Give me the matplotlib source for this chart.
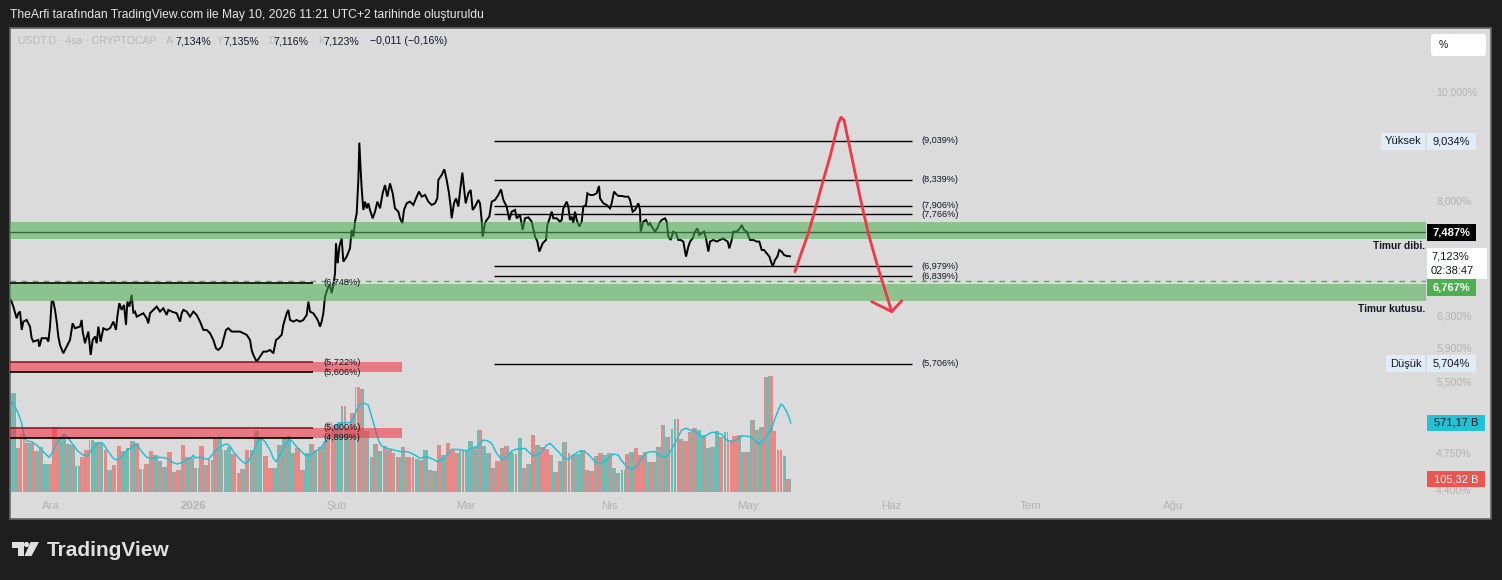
import datetime as dt
import numpy as np
import matplotlib
matplotlib.use('Agg')
import matplotlib.pyplot as plt
import matplotlib.dates as mdates
from matplotlib.patches import Rectangle, Polygon, Circle, FancyBboxPatch
from matplotlib.transforms import IdentityTransform
from matplotlib.ticker import FixedLocator, FixedFormatter, NullLocator, NullFormatter

plt.rcParams['font.family'] = ['Liberation Sans', 'DejaVu Sans']

BASE = dt.datetime(2026, 2, 1)   # day offsets below are days after 1 Feb 2026

# ---------------- price trace (USDT.D, %) ----------------
price_day = [
    -70.56, -70.06, -69.34, -68.98, -68.61, -68.25, -67.89, -67.17, -66.45, -66.09,
    -65.73, -64.65, -64.43, -63.92, -62.84, -62.48, -62.12, -61.76, -61.40, -61.04,
    -60.68, -60.32, -59.96, -59.24, -58.51, -57.79, -57.22, -56.71, -55.63, -55.27,
    -55.05, -54.55, -53.82, -53.32, -52.89, -52.38, -52.02, -51.66, -51.16, -50.58,
    -49.86, -49.13, -48.41, -47.84, -47.55, -47.11, -46.61, -46.10, -45.67, -45.38,
    -44.95, -44.44, -44.08, -43.72, -43.36, -42.64, -41.92, -41.20, -40.84, -40.48,
    -39.75, -39.03, -38.31, -37.59, -36.87, -36.51, -35.79, -34.70, -33.98, -33.62,
    -33.26, -32.54, -31.82, -31.10, -30.37, -29.65, -28.93, -28.21, -27.49, -26.77,
    -26.19, -25.69, -24.96, -24.60, -24.03, -23.52, -22.80, -22.08, -21.00, -20.27,
    -19.55, -18.83, -18.47, -18.11, -17.39, -16.67, -15.95, -15.22, -14.50, -13.78,
    -13.20, -12.70, -11.98, -11.62, -10.89, -10.53, -10.17, -9.45, -8.73, -8.01,
    -7.29, -6.57, -6.20, -5.84, -5.12, -4.40, -4.04, -3.68, -3.32, -2.96,
    -2.60, -2.24, -1.88, -1.52, -1.15, -0.79, -0.43,
    -0.22, 0.14, 0.51, 1.01, 1.37, 2.09, 2.81, 3.17, 3.54, 3.90,
    4.26, 4.62, 4.83, 5.12, 5.34, 5.70, 6.06, 6.42, 6.78, 7.14,
    7.72, 8.23, 8.73, 9.31, 9.88, 10.39, 10.89, 11.47, 12.05, 12.55,
    13.28, 13.64, 14.14, 14.50, 15.08, 15.80, 16.52, 17.24, 17.75, 18.33,
    19.05, 19.77, 20.49, 21.21, 21.72, 21.93, 22.66, 23.23, 23.74, 24.24,
    24.60, 24.82, 25.32, 25.76, 26.26, 26.62, 27.13, 27.49, 27.85, 28.43,
    28.93, 29.37, 29.87, 30.59, 30.95, 31.31, 31.53, 32.03, 32.40, 32.97,
    33.48, 34.20, 34.92, 35.50, 36.00, 36.72, 37.30, 37.81, 38.53, 38.89,
    39.61, 40.19, 40.69, 41.41, 42.14, 42.86, 43.36, 43.80, 44.52, 45.24,
    45.53, 46.10, 46.46, 46.83, 47.55, 48.27, 48.63, 48.99, 49.71, 50.07,
    50.43, 50.79, 51.15, 51.52, 51.88, 52.45, 52.96, 53.32, 53.90, 54.18,
    54.76, 55.48, 56.20, 56.71, 56.93, 57.65, 58.37, 59.09, 59.45, 59.96,
    60.39, 60.89, 61.62, 62.34, 63.06, 63.42, 63.99, 64.50, 65.22, 65.58,
    65.73, 66.31, 66.88, 67.39, 67.75, 68.11, 68.83, 69.34, 69.77, 70.27,
    70.99, 71.36, 71.72, 72.22, 72.80, 73.38, 73.88, 74.39, 74.96, 75.54,
    76.05, 76.41, 76.98, 77.49, 77.99, 78.43, 78.93, 79.44, 79.87, 80.37,
    80.74, 81.46, 82.18, 82.90, 83.62, 83.98, 84.56, 84.92, 85.43, 85.79,
    86.51, 87.23, 87.59, 88.10, 88.67, 89.39, 90.12, 90.84, 91.41, 91.92,
    92.42, 93.00, 93.58, 94.30, 94.81, 95.31, 95.74, 96.25, 96.75, 97.33, 98.05,
]
price_val = [
    6.510, 6.421, 6.268, 6.333, 6.355, 6.119, 6.225, 6.246, 6.161, 6.015,
    5.973, 5.994, 5.911, 6.015, 6.015, 5.973, 6.161, 6.487, 6.487, 6.377,
    6.225, 6.036, 5.932, 5.831, 5.911, 5.994, 6.203, 6.140, 6.161, 6.246,
    6.098, 5.953, 6.098, 5.811, 5.994, 6.036, 5.953, 6.161, 5.973, 6.140,
    6.119, 6.140, 6.225, 6.119, 6.289, 6.466, 6.377, 6.443, 6.182, 6.487,
    6.421, 6.577, 6.333, 6.355, 6.289, 6.311, 6.333, 6.268, 6.203, 6.333,
    6.377, 6.421, 6.355, 6.399, 6.311, 6.377, 6.355, 6.333, 6.225, 6.333,
    6.377, 6.355, 6.289, 6.355, 6.311, 6.225, 6.119, 6.119, 6.078, 5.994,
    5.891, 5.871, 5.911, 5.994, 6.119, 6.140, 6.098, 6.098, 6.098, 6.078,
    6.057, 5.994, 5.871, 5.811, 5.731, 5.791, 5.851, 5.851, 5.871, 5.831,
    5.994, 6.015, 6.057, 6.182, 6.333, 6.377, 6.246, 6.225, 6.246, 6.225,
    6.246, 6.311, 6.487, 6.355, 6.333, 6.268, 6.225, 6.161, 6.225, 6.333,
    6.555, 6.622, 6.690, 6.712, 6.600, 6.712, 6.878,
    7.318, 7.022, 7.268, 7.393, 7.045, 7.119, 7.242, 7.521, 7.419, 7.651,
    7.785, 8.339, 9.007, 8.513, 8.197, 7.838, 7.974, 7.865, 7.947, 7.838,
    7.705, 7.811, 7.974, 7.865, 8.113, 8.252, 8.056, 8.280, 8.113, 7.865,
    7.811, 7.705, 7.627, 7.838, 7.947, 7.974, 7.920, 8.056, 8.141, 8.056,
    8.085, 7.974, 7.920, 7.947, 8.030, 8.339, 8.426, 8.525, 8.339, 8.113,
    7.892, 7.705, 7.947, 8.030, 7.892, 8.141, 8.466, 8.197, 7.947, 8.113,
    8.169, 7.838, 7.892, 8.002, 7.947, 7.678, 7.419, 7.627, 7.678, 7.731,
    7.974, 8.002, 8.085, 8.180, 8.002, 7.892, 7.678, 7.811, 7.838, 7.705,
    7.758, 7.521, 7.705, 7.720, 7.651, 7.419, 7.343, 7.193, 7.318, 7.368,
    7.599, 7.720, 7.811, 7.705, 7.705, 7.651, 7.678, 7.865, 7.974, 7.892,
    7.678, 7.731, 7.627, 7.811, 7.678, 7.573, 7.651, 7.892, 7.920, 8.113,
    8.085, 8.085, 8.113, 8.236, 8.030, 7.947, 7.920, 7.865, 7.947, 8.141,
    8.102, 8.069, 8.069, 8.056, 8.056, 8.002, 7.811, 7.838, 7.947, 7.838,
    7.496, 7.651, 7.678, 7.599, 7.627, 7.573, 7.496, 7.547, 7.627, 7.678,
    7.705, 7.651, 7.419, 7.368, 7.496, 7.470, 7.368, 7.368, 7.343, 7.119,
    7.268, 7.343, 7.393, 7.496, 7.547, 7.444, 7.470, 7.496, 7.393, 7.193,
    7.343, 7.368, 7.343, 7.368, 7.393, 7.368, 7.343, 7.242, 7.368, 7.496,
    7.496, 7.547, 7.599, 7.521, 7.496, 7.368, 7.368, 7.343, 7.343, 7.217,
    7.217, 7.169, 7.119, 6.973, 7.070, 7.119, 7.217, 7.193, 7.143, 7.128, 7.123,
]

# ---------------- volume (billions), two segments ----------------
vol_dec_feb = [
    822, 365, 479, 407, 407, 340, 374, 230, 230, 534, 457,
    465, 396, 387, 213, 291, 346, 429, 415, 415, 346,
    180, 221, 379, 340, 365, 423, 407, 188, 230, 338,
    304, 257, 208, 332, 166, 180, 387, 285, 279, 196,
    379, 224, 263, 434, 437, 346, 374, 313, 158, 191,
    346, 346, 506, 443, 296, 194, 199, 390, 445, 462,
    324, 360, 180, 321, 396, 346, 368, 423, 576, 553,
    581, 711, 540, 650, 872, 852, 504, 285, 396, 340,
    379, 346, 324, 285, 368, 285,
]
vol_feb_may = [
    285, 268, 263, 346, 180, 172, 387, 304, 407, 346,
    324, 338, 338, 421, 374, 512, 379, 324, 194, 257,
    365, 379, 332, 313, 445, 194, 230, 470, 387, 368,
    354, 304, 166, 257, 412, 318, 302, 310, 346, 180,
    174, 296, 318, 304, 318, 196, 152, 180, 313, 329,
    360, 304, 332, 249, 249, 368, 553, 451, 517, 600,
    437, 421, 493, 526, 512, 470, 360, 368, 504, 457,
    493, 429, 462, 468, 329, 329, 595, 512, 540, 949,
    960, 504, 346, 296, 105,
]
vol_seg_days = [-70.56, 15.80, 98.20]

vol_ma_day = [
    -70.42, -69.70, -68.98, -68.25, -67.75, -67.17, -66.09, -65.01, -63.92, -62.84,
    -62.27, -61.54, -60.68, -59.60, -59.02, -58.15, -57.07, -55.99, -54.91, -54.04,
    -53.10, -52.02, -51.30, -50.58, -49.49, -48.41, -47.69, -46.61, -45.53, -44.44,
    -43.72, -43.22, -42.28, -41.20, -40.12, -39.03, -37.95, -36.87, -35.79, -34.70,
    -33.62, -32.54, -31.46, -31.10, -30.74, -29.65, -28.93, -27.85, -26.77, -25.69,
    -24.60, -23.88, -23.16, -22.44, -21.00, -19.91, -19.19, -18.11, -17.03, -16.31,
    -15.58, -14.50, -13.78, -13.20, -12.34, -11.26, -10.32, -9.60, -8.73, -7.65,
    -6.71, -5.70, -4.76, -3.68, -2.60, -1.88, -1.15, -0.07, 0.65, 1.73,
    2.81, 3.54, 4.26, 4.98, 6.06, 6.78, 7.50, 8.23, 8.95, 9.67,
    10.75, 11.83, 12.91, 14.00, 15.08, 15.80,
    16.88, 17.97, 19.05, 19.77, 20.85, 21.72, 22.66, 23.74, 24.82, 25.90,
    26.98, 28.07, 29.15, 30.59, 31.67, 32.54, 33.48, 34.56, 35.64, 36.72,
    37.81, 38.89, 39.97, 40.69, 41.41, 42.50, 43.22, 44.30, 45.38, 46.10,
    46.83, 47.91, 48.99, 50.07, 51.15, 52.24, 52.96, 53.68, 54.76, 55.84,
    56.93, 58.37, 59.81, 60.89, 61.62, 62.70, 63.78, 64.86, 65.95, 67.03,
    68.11, 68.83, 69.91, 71.00, 71.93, 72.80, 73.88, 74.60, 75.54, 76.41,
    77.49, 78.57, 79.29, 80.01, 81.10, 82.18, 83.26, 84.34, 85.43, 86.51,
    87.59, 88.67, 89.75, 90.48, 91.20, 91.92, 93.00, 94.08, 94.81, 95.53,
    96.10, 96.61, 97.33, 98.05, 98.20,
]
vol_ma_b = [
    747, 706, 650, 567, 470, 421, 415, 387, 346, 304,
    285, 332, 401, 457, 476, 443, 387, 332, 304, 296,
    346, 396, 407, 396, 332, 277, 263, 285, 340, 368,
    387, 387, 332, 285, 277, 285, 285, 277, 249, 230,
    241, 268, 285, 304, 282, 285, 277, 268, 318, 360,
    387, 396, 379, 332, 268, 235, 249, 332, 429, 440,
    415, 346, 277, 249, 304, 387, 434, 415, 374, 332,
    296, 304, 332, 360, 407, 443, 484, 553, 567, 573,
    573, 609, 678, 728, 733, 719, 623, 526, 429, 379,
    360, 351, 340, 332, 332, 324,
    304, 277, 291, 285, 268, 249, 263, 304, 351, 351,
    346, 340, 360, 379, 429, 423, 401, 318, 268, 285,
    338, 354, 354, 360, 332, 296, 304, 332, 387, 401,
    374, 332, 285, 268, 304, 332, 340, 332, 296, 249,
    230, 263, 313, 304, 257, 208, 185, 208, 277, 324,
    332, 332, 296, 285, 318, 379, 457, 512, 526, 512,
    498, 470, 448, 470, 493, 490, 476, 429, 415, 429,
    462, 462, 451, 429, 396, 415, 457, 526, 609, 678,
    728, 711, 664, 595, 571,
]

# ---------------- drawings ----------------
fib_levels = [9.039, 8.339, 7.906, 7.766, 6.979, 6.839, 5.706]
fib_days = [33.98, 124.40]
fib_label_day = 126.4
green_boxes = [(7.388, 7.647), (6.501, 6.729)]
red_boxes = [(5.606, 5.722), (4.899, 5.000)]
red_box_days = [-70.78, 14.0]
short_line_days = [-70.78, -5.19]
short_label_day = -3.03
level_6748 = 6.748
level_dibi = 7.487
level_kutu = 6.767
arrow_day = [99.13, 100.22, 102.01, 103.46, 105.26, 106.71, 107.79, 108.51, 109.09,
             109.74, 110.33, 111.41, 113.20, 115.00, 116.82, 118.61, 120.06]
arrow_val = [6.901, 7.119, 7.470, 7.838, 8.339, 8.750, 9.119, 9.374, 9.491,
             9.439, 9.183, 8.750, 8.056, 7.470, 7.022, 6.645, 6.355]
head_day = [115.73, 120.06, 122.23]
head_val = [6.487, 6.355, 6.497]

# (the 5,100% label sits behind the volume-average tag in the reference)
ytick_vals = [10.0, 8.0, 6.3, 5.9, 5.5, 4.75, 4.4]
ytick_labels = ['10,000%', '8,000%', '6,300%', '5,900%', '5,500%', '4,750%', '4,400%']
month_dates = [dt.datetime(2025, 12, 1), dt.datetime(2026, 1, 1), dt.datetime(2026, 2, 1),
               dt.datetime(2026, 3, 1), dt.datetime(2026, 4, 1), dt.datetime(2026, 5, 1),
               dt.datetime(2026, 6, 1), dt.datetime(2026, 7, 1), dt.datetime(2026, 8, 1)]
month_labels = ['Ara', '2026', 'Şub', 'Mar', 'Nis', 'May', 'Haz', 'Tem', 'Ağu']

high_val, low_val, last_val = 9.034, 5.704, 7.123
vol_ma_last, vol_last = 571.17, 105.32


def comma(v, nd=3):
    return f'{v:.{nd}f}'.replace('.', ',')


def num(d):
    return mdates.date2num(BASE) + np.asarray(d, dtype=float)


W, H = 1502, 580
ID = IdentityTransform()
fig = plt.figure(figsize=(W / 100, H / 100), dpi=100, facecolor='#1e1e1e')


def frac(x0, y0, x1, y1):
    return [x0 / W, 1 - y1 / H, (x1 - x0) / W, (y1 - y0) / H]


fig.add_artist(Rectangle((10, H - 519), 1481, 491, transform=ID, facecolor='#dbdbdb',
                         edgecolor='#666666', lw=1.2, zorder=0))

ax = fig.add_axes(frac(10, 28, 1426, 497))
ax2 = ax.twinx()
ax.set_zorder(2)
ax2.set_zorder(1)
ax.patch.set_visible(False)
ax2.patch.set_visible(False)
for a in (ax, ax2):
    for s in a.spines.values():
        s.set_visible(False)

ax.set_yscale('log')
ax.set_ylim(4.334, 11.412)
ax.set_xlim(num(-70.78), num(235.71))
ax2.set_ylim(-44, 3849)

# ---- volume bars (each daily block split into 4h slivers) ----
pattern = [0, 1, 0, 0, 1, 1, 0, 1, 1, 0, 0, 1, 0, 1]
vcols = ['#ef5350', '#26a69a']
xs, hs, ws, cs = [], [], [], []
for vals, d0, d1 in ((vol_dec_feb, vol_seg_days[0], vol_seg_days[1]),
                     (vol_feb_may, vol_seg_days[1], vol_seg_days[2])):
    n = len(vals)
    w = (d1 - d0) / n
    for i, v in enumerate(vals):
        for k in range(6):
            xs.append(d0 + i * w + (k + 0.5) * w / 6)
            hs.append(v)
            ws.append(w / 6 * 0.95)
            cs.append(vcols[pattern[(i * 6 + k) % len(pattern)]])
ax2.bar(num(xs), hs, width=np.array(ws), color=cs, alpha=0.6, lw=0)
ax2.plot(num(vol_ma_day), vol_ma_b, color='#22c1d6', lw=1.1)
ax2.set_yticks([])
ax2.tick_params(length=0)

# ---- price ----
ax.axhline(level_dibi, color='#131722', lw=1.0, zorder=3)
ax.plot(num(price_day), price_val, color='black', lw=1.4, zorder=3, solid_joinstyle='miter')
for lo, hi in green_boxes:
    ax.axhspan(lo, hi, color='#4caf50', alpha=0.55, lw=0, zorder=4)
ax.axhline(level_kutu, color='#4caf50', lw=1.0, ls=(0, (4, 4)), zorder=5)

for lo, hi in red_boxes:
    ax.fill_between(num(red_box_days), lo, hi, color='#f23645', alpha=0.6, lw=0, zorder=4)
    ax.hlines(hi, num(short_line_days[0]), num(short_line_days[1]), color='#8e1c25', lw=1.2, zorder=5)
    ax.hlines(lo, num(short_line_days[0]), num(short_line_days[1]), color='black', lw=1.2, zorder=5)
    for v in (hi, lo):
        ax.text(num(short_label_day), v, f'({comma(v)}%)', fontsize=6.6, va='center',
                color='#131722', zorder=6)
ax.hlines(level_6748, num(short_line_days[0]), num(short_line_days[1]), color='black', lw=1.2, zorder=5)
ax.text(num(short_label_day), level_6748, f'({comma(level_6748)}%)', fontsize=6.6, va='center',
        color='#131722', zorder=6)

ax.hlines(fib_levels, num(fib_days[0]), num(fib_days[1]), color='black', lw=1.0, zorder=5)
for lv in fib_levels:
    ax.text(num(fib_label_day), lv, f'({comma(lv)}%)', fontsize=6.6, va='center',
            color='#131722', zorder=6)

ax.plot(num(arrow_day), arrow_val, color='#f23645', lw=2.0, zorder=7, solid_capstyle='round')
ax.plot(num(head_day), head_val, color='#f23645', lw=2.0, zorder=7, solid_capstyle='round',
        solid_joinstyle='round')

ax.text(num(235.5), 7.28, 'Timur dibi.', fontsize=7.3, fontweight='bold', ha='right',
        va='center', color='#131722', zorder=6)
ax.text(num(235.5), 6.39, 'Timur kutusu.', fontsize=7.3, fontweight='bold', ha='right',
        va='center', color='#131722', zorder=6)

# ---- axes ticks ----
ax.yaxis.tick_right()
ax.yaxis.set_major_locator(FixedLocator(ytick_vals))
ax.yaxis.set_major_formatter(FixedFormatter(ytick_labels))
ax.yaxis.set_minor_locator(NullLocator())
ax.yaxis.set_minor_formatter(NullFormatter())
ax.tick_params(axis='y', length=0, pad=7.3, labelsize=7.6, labelcolor='#b3b3b3')
ax.set_xticks(mdates.date2num(month_dates))
ax.set_xticklabels(month_labels)
ax.tick_params(axis='x', length=0, pad=3.2, labelsize=8.2, labelcolor='#b3b3b3')
ax.get_xticklabels()[1].set_fontweight('bold')

# ---- right-side tags ----
x0 = ax.get_xlim()[0]


def ydisp(axis, v):
    return axis.transData.transform((x0, v))[1]


def tag(xl, xr, yc, text, fc, tc, h=17, bold=False, fs=8.0, ha='center'):
    fig.add_artist(Rectangle((xl, yc - h / 2), xr - xl, h, transform=ID, facecolor=fc,
                             edgecolor='none', zorder=10))
    tx = (xl + xr) / 2 if ha == 'center' else xl + 4
    fig.text(tx, yc, text, transform=ID, ha=ha, va='center', fontsize=fs, color=tc,
             fontweight='bold' if bold else 'normal', zorder=11)


yh = ydisp(ax, high_val)
tag(1381, 1425, yh, 'Yüksek', '#e1ecf9', '#131722')
tag(1427, 1476, yh, f'{comma(high_val)}%', '#e1ecf9', '#131722')
yl = ydisp(ax, low_val)
tag(1386, 1425, yl, 'Düşük', '#e1ecf9', '#131722')
tag(1427, 1476, yl, f'{comma(low_val)}%', '#e1ecf9', '#131722')
tag(1427, 1476, ydisp(ax, level_dibi), f'{comma(level_dibi)}%', '#000000', 'white', bold=True)
tag(1427, 1476, ydisp(ax, level_kutu) - 6.5, f'{comma(level_kutu)}%', '#4caf50', 'white', bold=True)

yc = ydisp(ax, last_val)
fig.add_artist(Rectangle((1427, yc - 23), 60, 31, transform=ID, facecolor='white',
                         edgecolor='none', zorder=10))
fig.text(1431, yc, f'{comma(last_val)}%', transform=ID, va='center', fontsize=8,
         color='#131722', zorder=11)
fig.text(1431, yc - 15, '02:38:47', transform=ID, va='center', fontsize=8,
         color='#131722', zorder=11)

tag(1427, 1485, ydisp(ax2, vol_ma_last), f'{comma(vol_ma_last, 2)} B', '#22c1d6', '#131722', h=16)
tag(1427, 1485, ydisp(ax2, vol_last), f'{comma(vol_last, 2)} B', '#ef5350', 'white', h=16)

# "%" button
fig.add_artist(FancyBboxPatch((1431, H - 56), 55, 22, boxstyle='round,pad=0,rounding_size=3',
                              transform=ID, facecolor='white', edgecolor='none', zorder=10))
fig.text(1439, H - 45, '%', transform=ID, va='center', fontsize=7.5, color='#131722', zorder=11)

# ---- header texts ----
fig.text(10, H - 15, 'TheArfi tarafından TradingView.com ile May 10, 2026 11:21 UTC+2 tarihinde oluşturuldu',
         transform=ID, va='center', fontsize=8.7, color='#e6e6e6')
hdr_y = H - 41
fig.text(18, hdr_y, 'USDT.D · 4sa · CRYPTOCAP', transform=ID, va='center', fontsize=7.6, color='#b9b9b9')
ohlc = [('A', 166, 7.134, 175), ('Y', 217, 7.135, 223), ('D', 268, 7.116, 273), ('K', 318, 7.123, 323)]
for letter, lx, val, vx in ohlc:
    fig.text(lx, hdr_y, letter, transform=ID, va='center', fontsize=7.6, color='#b9b9b9')
    fig.text(vx, hdr_y, f'{comma(val)}%', transform=ID, va='center', fontsize=7.6, color='#131722')
fig.text(370, hdr_y, '−0,011 (−0,16%)', transform=ID, va='center', fontsize=7.6, color='#131722')

# ---- TradingView logo ----
logo_c = '#e0e0e0'
fig.add_artist(Polygon([(12, H - 542), (23.5, H - 542), (23.5, H - 556), (17.5, H - 556),
                        (17.5, H - 547.5), (12, H - 547.5)], closed=True, transform=ID,
                       facecolor=logo_c, edgecolor='none', zorder=5))
fig.add_artist(Circle((26.5, H - 544.5), 2.6, transform=ID, facecolor=logo_c, edgecolor='none', zorder=5))
fig.add_artist(Polygon([(30.5, H - 542), (39, H - 542), (31.5, H - 556), (24.5, H - 556)],
                       closed=True, transform=ID, facecolor=logo_c, edgecolor='none', zorder=5))
fig.text(47, H - 550, 'TradingView', transform=ID, va='center', fontsize=15, fontweight='bold',
         color=logo_c)

fig.savefig('out.png', dpi=100, facecolor=fig.get_facecolor())
